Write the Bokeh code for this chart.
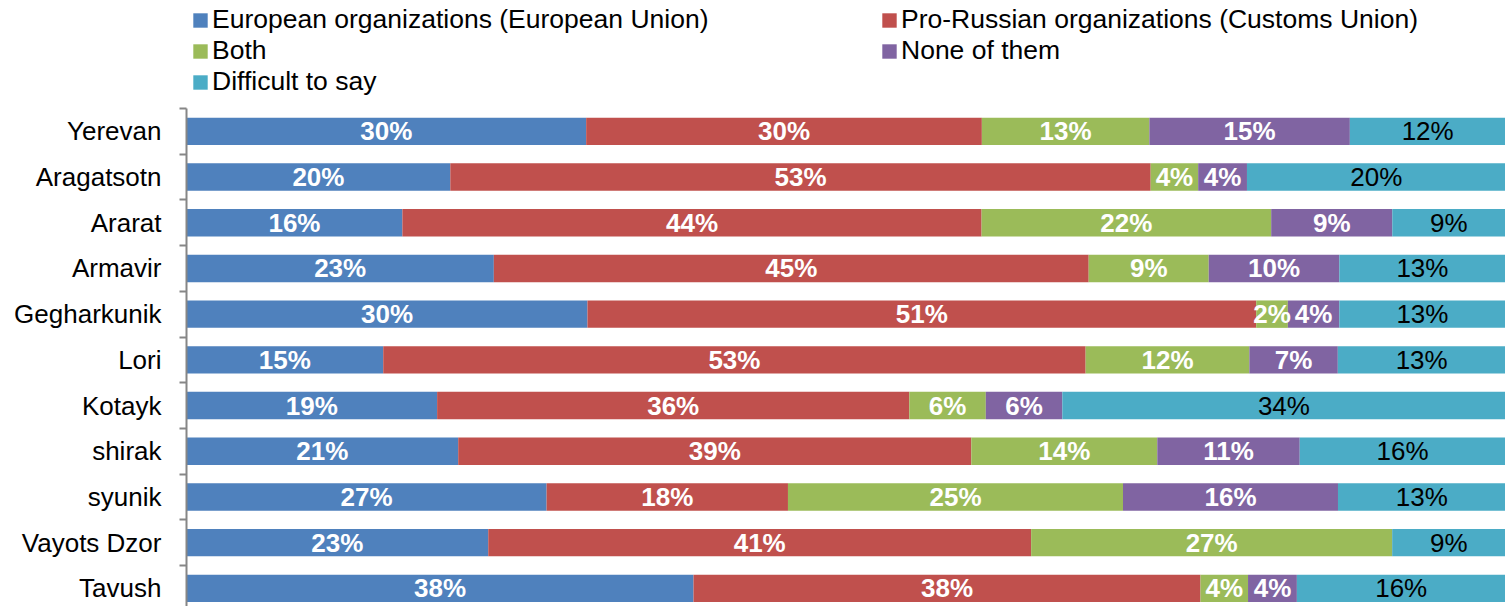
from bokeh.plotting import figure
from bokeh.models import ColumnDataSource, Range1d, FixedTicker, Legend, LegendItem
from bokeh.core.properties import value
from bokeh.embed import file_html
from bokeh.resources import INLINE

regions = ["Yerevan", "Aragatsotn", "Ararat", "Armavir", "Gegharkunik", "Lori",
           "Kotayk", "shirak", "syunik", "Vayots Dzor", "Tavush"]
series_names = ["European organizations (European Union)",
                "Pro-Russian organizations (Customs Union)",
                "Both", "None of them", "Difficult to say"]
eu = [30.3, 20.0, 16.4, 23.3, 30.4, 14.9, 19.0, 20.6, 27.3, 22.9, 38.4]
ru = [30.0, 53.1, 44.0, 45.1, 50.7, 53.2, 35.8, 38.9, 18.3, 41.2, 38.4]
both = [12.7, 3.6, 22.0, 9.1, 2.4, 12.4, 5.8, 14.1, 25.4, 27.4, 3.6]
none_ = [15.2, 3.7, 9.2, 9.9, 3.9, 6.7, 5.8, 10.8, 16.3, 0.0, 3.7]
dts = [11.8, 19.6, 8.6, 12.6, 12.6, 12.7, 33.6, 15.6, 12.7, 8.6, 15.8]
colors = ["#4F81BD", "#C0504D", "#9BBB59", "#8064A2", "#4BACC6"]
label_colors = ["white", "white", "white", "white", "black"]
label_styles = ["bold", "bold", "bold", "bold", "normal"]

series = [eu, ru, both, none_, dts]
keys = ["eu", "ru", "both", "none", "dts"]
n = len(regions)
ypos = [n - 1 - i for i in range(n)]

# normalise each row to 100 % (100 % stacked bar)
totals = [sum(s[i] for s in series) for i in range(n)]
data = {"y": ypos, "region": regions}
for k, s in zip(keys, series):
    data[k] = [s[i] / totals[i] * 100 for i in range(n)]
source = ColumnDataSource(data)

W, H = 1505, 606
unit = 45.7          # pixels per category
top_px = 108         # top of the category area
y_end = (n - 0.5) + top_px / unit
y_start = y_end - H / unit

p = figure(width=W, height=H, output_backend="svg", toolbar_location=None,
           x_range=Range1d(0, 100), y_range=Range1d(y_start, y_end),
           min_border_left=186, min_border_right=0, min_border_top=0, min_border_bottom=0)
p.outline_line_color = None
p.xgrid.visible = False
p.ygrid.visible = False
p.xaxis.visible = False

renderers = p.hbar_stack(keys, y="y", height=0.6, color=colors, source=source, line_width=0)

# labels
for j, k in enumerate(keys):
    xs, ys, txt = [], [], []
    for i in range(n):
        v = series[j][i]
        if v <= 0:
            continue
        left = sum(data[kk][i] for kk in keys[:j])
        xs.append(left + data[k][i] / 2)
        ys.append(ypos[i])
        txt.append("%d%%" % int(v + 0.5))
    ls = ColumnDataSource(dict(x=xs, y=ys, t=txt))
    p.text(x="x", y="y", text="t", source=ls, text_align="center", text_baseline="middle",
           text_font=value("Liberation Sans"), text_font_size="26px",
           text_font_style=label_styles[j], text_color=label_colors[j])

ax = p.yaxis[0]
ax.bounds = (-0.5, n - 0.5)
ax.ticker = FixedTicker(ticks=ypos, minor_ticks=[y + 0.5 for y in ypos])
ax.major_label_overrides = {y: r for y, r in zip(ypos, regions)}
ax.major_tick_line_color = None
ax.major_tick_out = 0
ax.major_tick_in = 0
ax.minor_tick_out = 7
ax.minor_tick_in = 0
ax.minor_tick_line_color = "#868686"
ax.minor_tick_line_width = 2
ax.axis_line_color = "#868686"
ax.axis_line_width = 2
ax.major_label_standoff = 18
ax.major_label_text_font = "Liberation Sans"
ax.major_label_text_font_size = "26px"
ax.major_label_text_color = "black"

items = [LegendItem(label=nm, renderers=[r]) for nm, r in zip(series_names, renderers)]
legend = Legend(items=items, ncols=2, orientation="horizontal", location=(5, 509),
                padding=0, margin=0, spacing=0, border_line_color=None,
                background_fill_alpha=0, glyph_width=18, glyph_height=18,
                label_standoff=3, label_width=668, label_height=29,
                label_text_font="Liberation Sans", label_text_font_size="26.5px",
                label_text_color="black")
p.add_layout(legend, "center")

open("out.html", "w").write(file_html(p, INLINE))
